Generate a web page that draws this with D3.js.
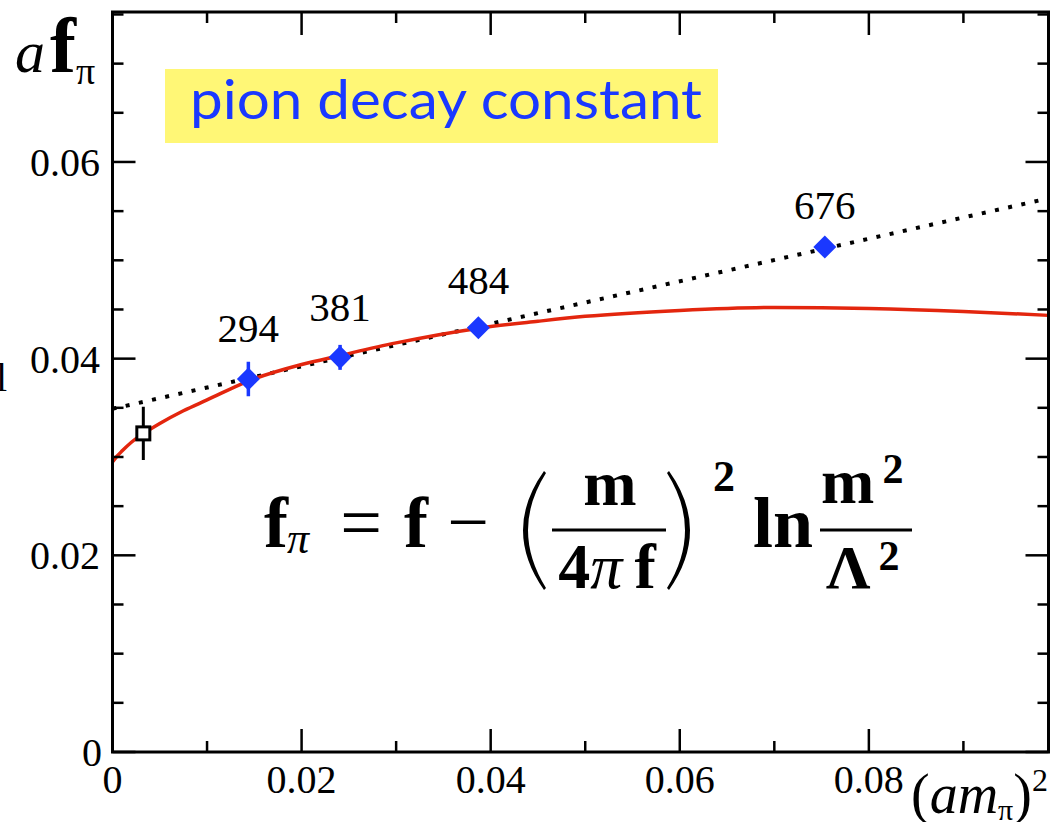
<!DOCTYPE html>
<html>
<head>
<meta charset="utf-8">
<script src="https://cdn.jsdelivr.net/npm/d3@7"></script>
<style>
  html, body { margin: 0; padding: 0; background: #fff; }
  svg { display: block; }
</style>
</head>
<body>
<svg id="chart" width="1052" height="822"></svg>
<script>
// Lattice data: pion masses (MeV) as labels, (a m_pi)^2 and a f_pi with errors
const pionLabels = ["294", "381", "484", "676"];
const mpiSq      = [0.01437, 0.02407, 0.0387, 0.07534];
const fpiVals    = [0.03793, 0.04013, 0.04314, 0.05135];
const fpiErrs    = [0.00175, 0.00127, 0.0007, 0.0005];

// Physical point (open square)
const physX = [0.00326];
const physY = [0.0324];
const physErr = [0.0027];

// Chiral-log fit curve, sampled
const curveX = [0, 0.0005, 0.001, 0.002, 0.003, 0.005, 0.0075, 0.01, 0.0143, 0.02, 0.024, 0.03, 0.0388, 0.045, 0.05, 0.06, 0.07, 0.08, 0.09, 0.099];
const curveY = [0.0295, 0.0301, 0.0306, 0.0315, 0.0322, 0.0334, 0.0347, 0.0358, 0.0377, 0.0394, 0.0403, 0.0416, 0.0431, 0.0438, 0.0443, 0.0449, 0.0452, 0.0451, 0.0448, 0.0444];

// Linear fit (dotted)
const lineX = [0, 0.099];
const lineY = [0.0349, 0.0563];

// Axis ticks
const xTickLabels = ["0", "0.02", "0.04", "0.06", "0.08"];
const yTickLabels = ["0", "0.02", "0.04", "0.06"];

const svg = d3.select("#chart");
const L = 112.5, R = 1048.5, T = 12, B = 752;

const x = d3.scaleLinear().domain([0, 0.099]).range([L, R]);
const y = d3.scaleLinear().domain([0, 0.07525]).range([B, T]);

const serif = "'Liberation Serif', 'Times New Roman', serif";
const BLUE = "#1a38ff";
const RED = "#e3260e";

// Title box
svg.append("rect").attr("x", 165).attr("y", 69).attr("width", 553).attr("height", 74)
  .attr("fill", "#fff776");
svg.append("text").attr("x", 190).attr("y", 119)
  .attr("font-family", "Lato, 'Open Sans', sans-serif").attr("font-size", 54)
  .attr("fill", BLUE).attr("textLength", 512).attr("lengthAdjust", "spacingAndGlyphs")
  .text("pion decay constant");

// Clip for plot contents
svg.append("defs").append("clipPath").attr("id", "plotclip")
  .append("rect").attr("x", L).attr("y", T).attr("width", R - L).attr("height", B - T);

const plot = svg.append("g").attr("clip-path", "url(#plotclip)");

// Dotted linear fit
plot.append("path")
  .datum(lineX.map((v, i) => [v, lineY[i]]))
  .attr("d", d3.line().x(d => x(d[0])).y(d => y(d[1])))
  .attr("fill", "none").attr("stroke", "#000").attr("stroke-width", 4)
  .attr("stroke-dasharray", "4 9.5");

// Red chiral fit
plot.append("path")
  .datum(curveX.map((v, i) => [v, curveY[i]]))
  .attr("d", d3.line().x(d => x(d[0])).y(d => y(d[1])).curve(d3.curveMonotoneX))
  .attr("fill", "none").attr("stroke", RED).attr("stroke-width", 3.5);

// Blue data points with error bars
const pts = mpiSq.map((v, i) => ({ x: v, y: fpiVals[i], e: fpiErrs[i], lab: pionLabels[i] }));
plot.selectAll(".eb").data(pts).join("line")
  .attr("x1", d => x(d.x)).attr("x2", d => x(d.x))
  .attr("y1", d => y(d.y - d.e)).attr("y2", d => y(d.y + d.e))
  .attr("stroke", BLUE).attr("stroke-width", 3.5);
const diamond = d3.symbol().type(d3.symbolSquare).size(265);
plot.selectAll(".dm").data(pts).join("path")
  .attr("d", diamond)
  .attr("transform", d => `translate(${x(d.x)},${y(d.y)}) rotate(45)`)
  .attr("fill", BLUE);

svg.selectAll(".lab").data(pts).join("text")
  .attr("x", d => x(d.x)).attr("y", (d, i) => [342, 321, 294, 219][i])
  .attr("text-anchor", "middle")
  .attr("font-family", serif).attr("font-size", 41)
  .text(d => d.lab);

// Physical point
const phys = physX.map((v, i) => ({ x: v, y: physY[i], e: physErr[i] }));
plot.selectAll(".peb").data(phys).join("line")
  .attr("x1", d => x(d.x)).attr("x2", d => x(d.x))
  .attr("y1", d => y(d.y - d.e)).attr("y2", d => y(d.y + d.e))
  .attr("stroke", "#000").attr("stroke-width", 3);
plot.selectAll(".psq").data(phys).join("rect")
  .attr("x", d => x(d.x) - 6.5).attr("y", d => y(d.y) - 6.5)
  .attr("width", 13).attr("height", 13)
  .attr("fill", "#fff").attr("stroke", "#000").attr("stroke-width", 3);

// Axes: frame and inward ticks on all four sides
const axes = svg.append("g").attr("stroke", "#000").attr("fill", "none");
const xMinor = d3.range(0, 0.0991, 0.01);
const yMinor = d3.range(0, 0.0751, 0.005);
const isMajor = (v, step) => Math.abs(v / step - Math.round(v / step)) < 1e-6;

xMinor.forEach(v => {
  const len = isMajor(v, 0.02) ? 23 : 11;
  axes.append("line").attr("x1", x(v)).attr("x2", x(v)).attr("y1", B).attr("y2", B - len).attr("stroke-width", 2.5);
  axes.append("line").attr("x1", x(v)).attr("x2", x(v)).attr("y1", T).attr("y2", T + len).attr("stroke-width", 2.5);
});
yMinor.forEach(v => {
  const len = isMajor(v, 0.02) ? 23 : 11;
  axes.append("line").attr("y1", y(v)).attr("y2", y(v)).attr("x1", L).attr("x2", L + len).attr("stroke-width", 2.5);
  axes.append("line").attr("y1", y(v)).attr("y2", y(v)).attr("x1", R).attr("x2", R - len).attr("stroke-width", 2.5);
});
axes.append("rect").attr("x", L).attr("y", T).attr("width", R - L).attr("height", B - T)
  .attr("stroke-width", 3);

// Tick labels
svg.selectAll(".xl").data(xTickLabels).join("text")
  .attr("x", d => x(+d)).attr("y", 793)
  .attr("text-anchor", "middle").attr("font-family", serif).attr("font-size", 40)
  .text(d => d);
svg.selectAll(".yl").data(yTickLabels).join("text")
  .attr("x", d => d === "0" ? 102 : 100).attr("y", d => y(+d) + 14)
  .attr("text-anchor", "end").attr("font-family", serif).attr("font-size", 40)
  .text(d => d);

// Partially visible glyph at left edge
svg.append("text").attr("x", 7).attr("y", 391).attr("text-anchor", "end")
  .attr("font-family", serif).attr("font-size", 40).text("l");

// Y axis title: a f_pi
const yt = svg.append("text").attr("x", 15).attr("y", 72).attr("font-family", serif);
yt.append("tspan").attr("font-style", "italic").attr("font-size", 60).text("a");
yt.append("tspan").attr("dx", 5).attr("font-weight", "bold").attr("font-size", 78).text("f");
yt.append("tspan").attr("font-size", 38).attr("dy", 12).text("π");

// X axis title: (a m_pi)^2
const xt = svg.append("text").attr("x", 911).attr("y", 813).attr("font-family", serif).attr("font-size", 56);
xt.append("tspan").text("(");
xt.append("tspan").attr("font-style", "italic").text("am");
xt.append("tspan").attr("font-size", 30).attr("dy", 7).text("π");
xt.append("tspan").attr("dy", -7).text(")");
xt.append("tspan").attr("font-size", 32).attr("dy", -22).text("2");

// Formula: f_pi = f - (m / 4 pi f)^2 ln m^2/Lambda^2
const F = svg.append("g").attr("font-family", serif).attr("fill", "#000");
const bold = (sel) => sel.attr("font-weight", "bold");
bold(F.append("text").attr("x", 264).attr("y", 547).attr("font-size", 72).text("f"));
F.append("text").attr("x", 287).attr("y", 553).attr("font-size", 44).attr("font-style", "italic").text("π");
F.append("text").attr("x", 361).attr("y", 547).attr("text-anchor", "middle").attr("font-size", 74).text("=");
bold(F.append("text").attr("x", 404).attr("y", 547).attr("font-size", 72).text("f"));
F.append("text").attr("x", 468).attr("y", 547).attr("text-anchor", "middle").attr("font-size", 74).text("−");
// Large parentheses
F.append("path").attr("d", "M544,471 Q502,530 544,590 L546,588 Q510,530 546,473 Z");
F.append("path").attr("d", "M669,471 Q711,530 669,590 L667,588 Q703,530 667,473 Z");
bold(F.append("text").attr("x", 610).attr("y", 505).attr("text-anchor", "middle").attr("font-size", 64).text("m"));
F.append("rect").attr("x", 552).attr("y", 528.5).attr("width", 114).attr("height", 3);
const den = F.append("text").attr("x", 607).attr("y", 588).attr("text-anchor", "middle").attr("font-size", 64);
den.append("tspan").attr("font-weight", "bold").text("4");
den.append("tspan").attr("font-style", "italic").text("π");
den.append("tspan").attr("font-weight", "bold").attr("dx", 12).text("f");
bold(F.append("text").attr("x", 724).attr("y", 491).attr("text-anchor", "middle").attr("font-size", 44).text("2"));
bold(F.append("text").attr("x", 753).attr("y", 547).attr("font-size", 72).text("ln"));
F.append("rect").attr("x", 820).attr("y", 528.5).attr("width", 92).attr("height", 3);
bold(F.append("text").attr("x", 821).attr("y", 503).attr("font-size", 64).text("m"));
bold(F.append("text").attr("x", 893).attr("y", 483).attr("text-anchor", "middle").attr("font-size", 42).text("2"));
bold(F.append("text").attr("x", 826).attr("y", 588).attr("font-size", 62).text("Λ"));
bold(F.append("text").attr("x", 889).attr("y", 570).attr("text-anchor", "middle").attr("font-size", 42).text("2"));
</script>
</body>
</html>
